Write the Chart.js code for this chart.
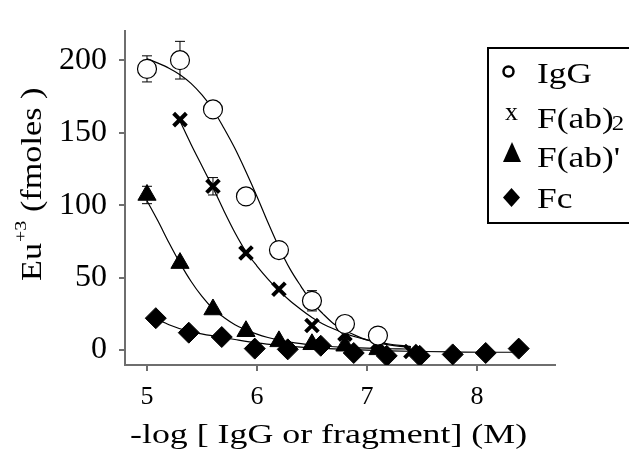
<!DOCTYPE html>
<html>
<head>
<meta charset="utf-8">
<script src="https://cdn.jsdelivr.net/npm/chart.js@4/dist/chart.umd.min.js"></script>
<style>
  html, body { margin: 0; padding: 0; background: #fff; }
</style>
</head>
<body>
<canvas id="chart" width="629" height="453"></canvas>
<script>
const xTickValues = [5, 6, 7, 8];
const yTickValues = [0, 50, 100, 150, 200];
const seriesNames = ['IgG', 'F(ab)2', "F(ab)'", 'Fc'];

// measured points
const igX = [5.0, 5.3, 5.6, 5.9, 6.2, 6.5, 6.8, 7.1];
const igY = [194, 200, 166, 106, 69, 34, 18, 10];
const igErr = [9, 13, 0, 0, 0, 7, 0, 0];

const fab2X = [5.3, 5.6, 5.9, 6.2, 6.5, 6.8, 7.1, 7.4];
const fab2Y = [159, 113, 67, 42, 17, 11, 5, -1];
const fab2Err = [0, 6, 0, 0, 0, 0, 0, 0];

const fabX = [5.0, 5.3, 5.6, 5.9, 6.2, 6.5, 6.8, 7.1];
const fabY = [107, 60, 28, 13, 6, 4, 3, 0.5];
const fabErr = [6, 0, 0, 0, 0, 0, 0, 0];

const fcX = [5.08, 5.38, 5.68, 5.98, 6.28, 6.58, 6.88, 7.18, 7.48, 7.78, 8.08, 8.38];
const fcY = [22, 12, 9, 1, 0.5, 3, -2, -4, -4, -3, -2, 1];

// fitted curves
const igFitX = [5.0, 5.1, 5.2, 5.3, 5.4, 5.5, 5.6, 5.7, 5.8, 5.9, 6.0, 6.1, 6.2, 6.3, 6.4, 6.5, 6.6, 6.7, 6.8, 6.9, 7.0, 7.1, 7.2, 7.3, 7.4];
const igFitY = [201, 198, 194.5, 190, 184, 176, 166, 153, 139, 123, 106, 88, 71, 56, 44, 33, 25, 18, 13.5, 10, 7, 5, 3.6, 2.6, 1.9];

const fab2FitX = [5.3, 5.4, 5.5, 5.6, 5.7, 5.8, 5.9, 6.0, 6.1, 6.2, 6.3, 6.4, 6.5, 6.6, 6.7, 6.8, 6.9, 7.0, 7.1, 7.2, 7.3, 7.4];
const fab2FitY = [158, 142, 127, 112, 96, 81, 68, 58, 49, 41, 34, 28, 22.5, 18, 14.5, 11.5, 9, 7, 5.5, 4.2, 3.2, 2.4];

const fabFitX = [5.0, 5.1, 5.2, 5.3, 5.4, 5.5, 5.6, 5.7, 5.8, 5.9, 6.0, 6.1, 6.2, 6.3, 6.4, 6.5, 6.6, 6.7, 6.8, 6.9, 7.0, 7.1, 7.2, 7.3, 7.4];
const fabFitY = [103, 89, 74, 60, 47.5, 37, 28.5, 22.5, 17.5, 14, 11, 8.7, 6.9, 5.5, 4.4, 3.5, 2.8, 2.3, 1.9, 1.6, 1.3, 1.1, 0.9, 0.8, 0.7];

const fcFitX = [5.08, 5.2, 5.4, 5.6, 5.8, 6.0, 6.2, 6.4, 6.6, 6.8, 7.0, 7.2, 7.5, 7.8, 8.1, 8.38];
const fcFitY = [22, 17.5, 12.5, 9.8, 7.3, 5, 3.3, 2, 1.2, 0.5, 0, -0.5, -1, -1.3, -1.5, -1.5];

const pts = (xs, ys) => xs.map((x, i) => ({ x: x, y: ys[i] }));

const FONT = '"Liberation Serif", "Times New Roman", Times, serif';
const AXIS = '#6e6e6e';
Chart.defaults.font.family = FONT;
Chart.defaults.color = '#000';

function fitLine(xs, ys) {
  return {
    type: 'line',
    data: pts(xs, ys),
    borderColor: '#000',
    borderWidth: 1.2,
    pointRadius: 0,
    cubicInterpolationMode: 'monotone',
    fill: false,
    order: 2
  };
}

// error bars, drawn under the markers
const errorBars = {
  id: 'errorBars',
  beforeDatasetsDraw(chart) {
    const ctx = chart.ctx;
    const xs = chart.scales.x, ys = chart.scales.y;
    const sets = [[igX, igY, igErr], [fab2X, fab2Y, fab2Err], [fabX, fabY, fabErr]];
    ctx.save();
    ctx.strokeStyle = '#000';
    ctx.lineWidth = 1;
    sets.forEach(([sx, sy, se]) => {
      se.forEach((e, i) => {
        if (!e) return;
        const px = xs.getPixelForValue(sx[i]);
        const top = ys.getPixelForValue(sy[i] + e);
        const bot = ys.getPixelForValue(sy[i] - e);
        ctx.beginPath();
        ctx.moveTo(px, top); ctx.lineTo(px, bot);
        ctx.moveTo(px - 5, top); ctx.lineTo(px + 5, top);
        ctx.moveTo(px - 5, bot); ctx.lineTo(px + 5, bot);
        ctx.stroke();
      });
    });
    ctx.restore();
  }
};

function wideText(ctx, str, x, y, sx) {
  ctx.save();
  ctx.translate(x, y);
  ctx.scale(sx, 1);
  ctx.fillText(str, 0, 0);
  ctx.restore();
  return ctx.measureText(str).width * sx;
}

// axis titles and boxed legend
const decorations = {
  id: 'decorations',
  afterDraw(chart) {
    const ctx = chart.ctx;
    ctx.save();
    ctx.fillStyle = '#000';
    ctx.textBaseline = 'alphabetic';
    ctx.textAlign = 'left';

    // x title
    ctx.font = '28px ' + FONT;
    wideText(ctx, '-log [ IgG or fragment] (M)', 130, 443, 1.28);

    // y title, rotated
    ctx.save();
    ctx.translate(41, 281);
    ctx.rotate(-Math.PI / 2);
    ctx.font = '29px ' + FONT;
    let adv = wideText(ctx, 'Eu', 0, 0, 1.18);
    ctx.font = '17px ' + FONT;
    adv += wideText(ctx, '+3', adv + 1, -15, 1.18) + 1;
    ctx.font = '29px ' + FONT;
    wideText(ctx, ' (fmoles )', adv, 0, 1.18);
    ctx.restore();

    // legend box
    ctx.strokeStyle = '#000';
    ctx.lineWidth = 2;
    ctx.strokeRect(488, 48, 160, 175);

    // markers
    ctx.lineWidth = 2.5;
    ctx.beginPath();
    ctx.arc(508.5, 71.5, 5, 0, Math.PI * 2);
    ctx.stroke();
    ctx.font = '26px ' + FONT;
    ctx.fillText('x', 505, 120);
    ctx.beginPath();
    ctx.moveTo(512, 142); ctx.lineTo(521, 162); ctx.lineTo(503, 162);
    ctx.closePath(); ctx.fill();
    ctx.beginPath();
    ctx.moveTo(511.5, 188); ctx.lineTo(520, 197.5); ctx.lineTo(511.5, 207); ctx.lineTo(503, 197.5);
    ctx.closePath(); ctx.fill();

    // labels
    const base = [83, 128, 167, 208];
    seriesNames.forEach((name, i) => {
      ctx.font = '30px ' + FONT;
      if (name === 'F(ab)2') {
        const w = wideText(ctx, 'F(ab)', 537, base[i], 1.18);
        ctx.font = '21px ' + FONT;
        wideText(ctx, '2', 537 + w - 2, base[i] + 2, 1.18);
      } else {
        wideText(ctx, name, 537, base[i], 1.18);
      }
    });
    ctx.restore();
  }
};

new Chart(document.getElementById('chart'), {
  type: 'scatter',
  data: {
    datasets: [
      {
        label: seriesNames[0],
        data: pts(igX, igY),
        pointStyle: 'circle',
        pointRadius: 9.5,
        pointBackgroundColor: '#fff',
        pointBorderColor: '#000',
        pointBorderWidth: 1.2,
        order: 1
      },
      {
        label: seriesNames[1],
        data: pts(fab2X, fab2Y),
        pointStyle: 'crossRot',
        pointRadius: 9,
        pointBorderColor: '#000',
        pointBorderWidth: 4,
        order: 1
      },
      {
        label: seriesNames[2],
        data: pts(fabX, fabY),
        pointStyle: 'triangle',
        pointRadius: 10.5,
        pointBackgroundColor: '#000',
        pointBorderColor: '#000',
        pointBorderWidth: 1,
        order: 1
      },
      {
        label: seriesNames[3],
        data: pts(fcX, fcY),
        pointStyle: 'rectRot',
        pointRadius: 10.5,
        pointBackgroundColor: '#000',
        pointBorderColor: '#000',
        pointBorderWidth: 1,
        order: 1
      },
      fitLine(igFitX, igFitY),
      fitLine(fab2FitX, fab2FitY),
      fitLine(fabFitX, fabFitY),
      fitLine(fcFitX, fcFitY)
    ]
  },
  options: {
    responsive: false,
    animation: false,
    layout: { padding: { top: 9, right: 74, left: 0, bottom: 0 } },
    plugins: {
      legend: { display: false },
      tooltip: { enabled: false }
    },
    scales: {
      x: {
        type: 'linear',
        min: 4.8,
        max: 8.71,
        afterBuildTicks: (s) => { s.ticks = xTickValues.map(v => ({ value: v })); },
        afterFit: (s) => { s.height = 88; },
        ticks: { font: { size: 26 }, color: '#000', padding: 11 },
        grid: { drawOnChartArea: false, drawTicks: true, tickLength: 6, color: AXIS, lineWidth: 2 },
        border: { color: AXIS, width: 2 }
      },
      y: {
        type: 'linear',
        min: -10.3,
        max: 220,
        afterBuildTicks: (s) => { s.ticks = yTickValues.map(v => ({ value: v })); },
        afterFit: (s) => { s.width = 125; },
        ticks: { font: { size: 32 }, color: '#000', padding: 12 },
        grid: { drawOnChartArea: false, drawTicks: true, tickLength: 6, color: AXIS, lineWidth: 2 },
        border: { color: AXIS, width: 2 }
      }
    }
  },
  plugins: [errorBars, decorations]
});
</script>
</body>
</html>
